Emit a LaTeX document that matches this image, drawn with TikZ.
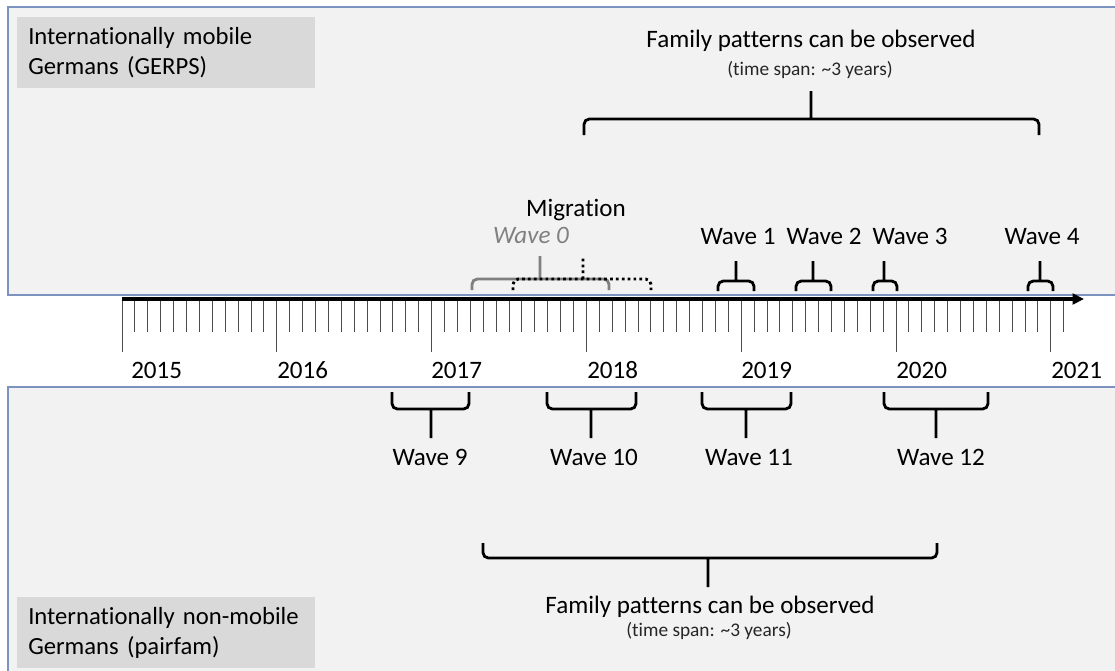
\documentclass[tikz,border=0pt]{standalone}
\usepackage{fontspec}
\setmainfont{Carlito}[Ligatures=CommonOff]
\usetikzlibrary{arrows.meta}
\definecolor{panelfill}{HTML}{F2F2F2}
\definecolor{panelline}{HTML}{7C93C0}
\definecolor{boxfill}{HTML}{D9D9D9}
\definecolor{wavegray}{HTML}{808080}
\tikzset{
  lbl/.style={font=\fontsize{18.8}{22}\selectfont, inner sep=0pt, anchor=base},
  note/.style={font=\fontsize{14.5}{16}\selectfont, inner sep=0pt, anchor=base, text=black!85},
  groupbox/.style={fill=boxfill, font=\fontsize{18.5}{22}\selectfont, align=left, anchor=north west,
    text width=207pt, inner xsep=8.25pt, inner ysep=0pt, minimum height=53.25pt},
  brc/.style={line width=2.1pt, rounded corners=4pt},
  tick/.style={black!70, line width=0.75pt}
}
\begin{document}
\begin{tikzpicture}[x=0.75pt, y=-0.75pt]
\useasboundingbox (0,0) rectangle (1115,671);
% panels
\fill[panelfill] (8,7) rectangle (1115,295);
\draw[panelline, line width=0.9pt] (1115,7) -- (8,7) -- (8,295) -- (1115,295);
\fill[panelfill] (8,387) rectangle (1115,671);
\draw[panelline, line width=0.9pt] (8,671) -- (8,387) -- (1115,387);
\node[groupbox] (gerps) at (17,17) {Internationally mobile\\Germans (GERPS)};
\node[groupbox] (pairfam) at (17,597) {Internationally non-mobile\\Germans (pairfam)};
% time line
\coordinate (tstart) at (122,299);
\coordinate (tend) at (1084,299);
\foreach \m in {0,...,73}
  \draw[tick] ({122+12.9*\m},301) -- ++(0,31);
\foreach \yr [count=\i from 0] in {2015,...,2021}
  \draw[tick] ({122+154.8*\i},301) -- ++(0,51);
\foreach \yr/\lx in {2015/131, 2016/277, 2017/431, 2018/587, 2019/741, 2020/896, 2021/1051}
  \node[lbl, anchor=base west] (y\yr) at (\lx,378) {\yr};
\draw[line width=2.4pt, -{Triangle[length=8.5pt,width=8pt]}] (tstart) -- (tend);
% GERPS waves
\draw[brc, wavegray] (472,290) -- (472,279) -- (609,279) -- (609,290) (540,279) -- (540,256);
\draw[brc, dash pattern=on 2pt off 2.4pt] (513,290) -- (513,279) -- (651,279) -- (651,290) (583,279) -- (583,256);
\node[lbl, font=\fontsize{18.8}{22}\selectfont\itshape, text=wavegray] (wave0) at (531,243) {Wave 0};
\node[lbl] (migration) at (576,216) {Migration};
\foreach \a/\b/\m/\lx/\k in {718/754/736/738/1, 796/831/813/824/2, 873/897/884/910/3, 1028/1053/1040/1042/4}{
  \draw[brc] (\a,291) -- (\a,281) -- (\b,281) -- (\b,291) (\m,281) -- (\m,261);
  \node[lbl] (wave\k) at (\lx,244) {Wave \k};
}
\draw[brc] (584,135) -- (584,119) -- (1039,119) -- (1039,135) (811,119) -- (811,91);
\node[lbl] (famtop) at (811,47) {Family patterns can be observed};
\node[note] (spantop) at (810,75) {(time span: \textasciitilde 3 years)};
% pairfam waves
\foreach \a/\b/\m/\lx/\k in {392/469/431/430/9, 547/636/591/594/10, 702/791/746/749/11, 884/988/936/941/12}{
  \draw[brc] (\a,392) -- (\a,409) -- (\b,409) -- (\b,392) (\m,409) -- (\m,438);
  \node[lbl] (wave\k) at (\lx,465) {Wave \k};
}
\draw[brc] (483,543) -- (483,558) -- (937,558) -- (937,543) (708,558) -- (708,587);
\node[lbl] (fambot) at (710,613) {Family patterns can be observed};
\node[note] (spanbot) at (709,636) {(time span: \textasciitilde 3 years)};
\end{tikzpicture}
\end{document}
